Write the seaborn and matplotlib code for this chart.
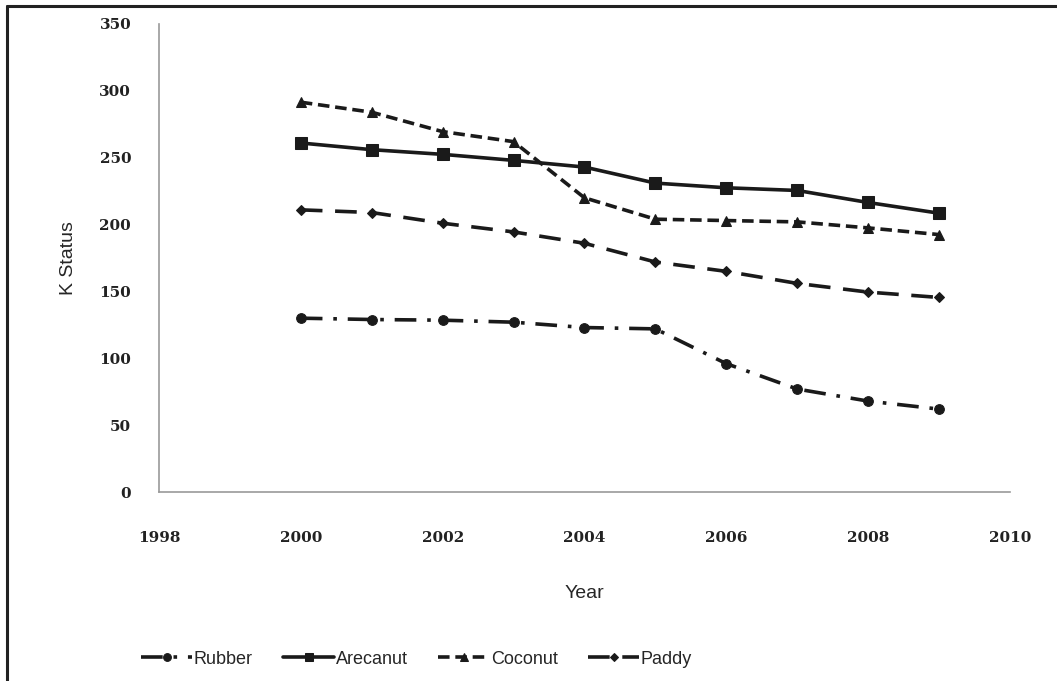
import matplotlib
matplotlib.use("Agg")
import matplotlib.pyplot as plt
import matplotlib.lines as mlines
import pandas as pd
import seaborn as sns

years = [2000, 2001, 2002, 2003, 2004, 2005, 2006, 2007, 2008, 2009]
rubber = [130, 129, 128.5, 127, 123, 122, 96, 77, 68, 62]
arecanut = [261, 256, 252.5, 248, 243, 231, 227.5, 225.5, 216.5, 208.5]
coconut = [291.5, 284, 269.5, 262, 220, 204, 203, 202, 197.5, 192.5]
paddy = [211, 209, 201, 194.5, 186, 172, 165, 156, 149.5, 145.5]

series_names = ["Rubber", "Arecanut", "Coconut", "Paddy"]
x_ticks = [1998, 2000, 2002, 2004, 2006, 2008, 2010]
y_ticks = [0, 50, 100, 150, 200, 250, 300, 350]

df = pd.DataFrame({"Year": years, "Rubber": rubber, "Arecanut": arecanut,
                   "Coconut": coconut, "Paddy": paddy})
long_df = df.melt(id_vars="Year", var_name="Crop", value_name="K Status")

sns.set_style("white")
plt.rcParams['font.family'] = ['Liberation Sans', 'DejaVu Sans']

fig = plt.figure(figsize=(10.57, 6.81), dpi=100)
ax = fig.add_axes([0.1504, 0.2775, 0.8051, 0.6873])

styles = {
    "Rubber": dict(marker="o", ms=7, dashes=(6, 3, 1, 3)),
    "Arecanut": dict(marker="s", ms=8, dashes=()),
    "Coconut": dict(marker="^", ms=7, dashes=(3.2, 1.6)),
    "Paddy": dict(marker="D", ms=5, dashes=(6, 3.5)),
}

for name in series_names:
    sub = long_df[long_df["Crop"] == name]
    st = styles[name]
    line_ax = sns.lineplot(data=sub, x="Year", y="K Status", ax=ax, color="#1a1a1a",
                           lw=2.6, marker=st["marker"], markersize=st["ms"],
                           markeredgecolor="#1a1a1a", label=name)
    ln = line_ax.lines[-1]
    if st["dashes"]:
        ln.set_dashes(st["dashes"])

ax.set_xlim(1998, 2010)
ax.set_ylim(0, 350)
ax.set_xticks(x_ticks)
ax.set_yticks(y_ticks)
for lbl in ax.get_xticklabels() + ax.get_yticklabels():
    lbl.set_fontfamily("DejaVu Serif")
    lbl.set_fontweight("bold")
    lbl.set_fontsize(11)
    lbl.set_color("#222222")
ax.tick_params(axis="x", length=0, pad=28)
ax.tick_params(axis="y", length=0, pad=20)

for side in ["top", "right"]:
    ax.spines[side].set_visible(False)
for side in ["left", "bottom"]:
    ax.spines[side].set_color("#9a9a9a")
    ax.spines[side].set_linewidth(1.2)

ax.set_xlabel("Year", fontsize=14, labelpad=29)
ax.set_ylabel("K Status", fontsize=14, labelpad=16)

handles, labels = ax.get_legend_handles_labels()
ax.get_legend().remove()
fig.legend(handles, labels, loc="center left", bbox_to_anchor=(125 / 1057, 0.032), ncol=4,
           frameon=False, handlelength=2.8, columnspacing=1.7, handletextpad=0.1,
           markerscale=0.8, prop={"size": 13})

fig.add_artist(mlines.Line2D([7 / 1057, 7 / 1057], [0, 1 - 6 / 681],
                             transform=fig.transFigure, color="#222222", lw=2.2))
fig.add_artist(mlines.Line2D([7 / 1057, 1], [1 - 6 / 681, 1 - 6 / 681],
                             transform=fig.transFigure, color="#222222", lw=2.2))

fig.savefig("out.png", dpi=100)
